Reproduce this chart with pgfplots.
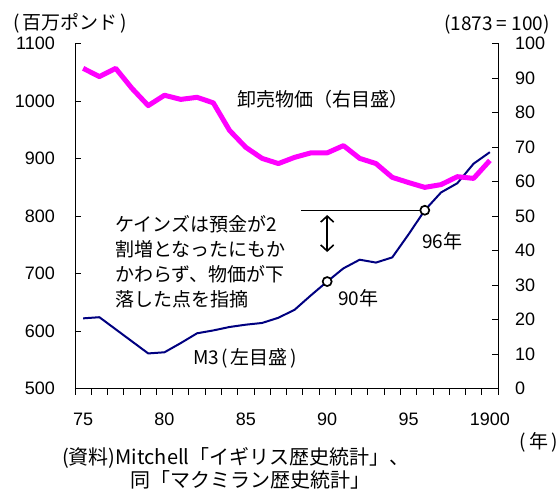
\documentclass[border=0pt]{standalone}
\usepackage{fontspec}
\setmainfont{Noto Sans CJK JP}
\newfontfamily\tickfont{Liberation Sans}
\usepackage{pgfplots}
\usepackage{pgfplotstable}
\pgfplotsset{compat=1.18}
\usetikzlibrary{arrows.meta}

\definecolor{mthree}{RGB}{0,0,128}
\definecolor{wprice}{RGB}{255,0,255}

% Money supply M3 (million pounds, left scale)
\pgfplotstableread{
year m3
1875 622
1876 624
1877 603
1878 582
1879 561
1880 563
1881 579
1882 596
1883 601
1884 607
1885 611
1886 614
1887 623
1888 637
1889 662
1890 686
1891 709
1892 724
1893 719
1894 728
1895 768
1896 810
1897 841
1898 857
1899 891
1900 911
}\mthreetable

% Wholesale price index (1873 = 100, right scale)
\pgfplotstableread{
year idx
1875 92.8
1876 90.4
1877 92.8
1878 87.0
1879 82.0
1880 85.0
1881 83.8
1882 84.4
1883 82.8
1884 74.8
1885 69.9
1886 66.7
1887 65.2
1888 67.0
1889 68.3
1890 68.3
1891 70.4
1892 66.7
1893 65.2
1894 61.2
1895 59.7
1896 58.3
1897 59.1
1898 61.4
1899 60.9
1900 66.1
}\pricetable

\tikzset{
  txt/.style={inner sep=0pt, font=\fontsize{19}{19}\selectfont},
  src/.style={inner sep=0pt, font=\fontsize{20}{20}\selectfont},
}

\pgfplotsset{
  frame/.style={
    scale only axis, width=423pt, height=345pt,
    at={(0pt,0pt)}, anchor=south west,
    xmin=1874.5, xmax=1900.5,
    clip=false,
    tick align=inside,
    major tick length=6pt, minor tick length=6pt,
    every tick/.style={black, line width=0.8pt},
    axis line style={black, line width=0.9pt},
    /pgf/number format/assume math mode=true,
    /pgf/number format/1000 sep={},
    ticklabel style={font=\tickfont\fontsize{18}{18}\selectfont, inner sep=0pt},
  },
}

\begin{document}
\begin{tikzpicture}
\path[use as bounding box] (-75pt,-110.5pt) rectangle (484pt,388.5pt);

% left scale: M3 and the x axis
\begin{axis}[frame,
  ymin=500, ymax=1100,
  axis x line*=bottom, axis y line*=left,
  ytick={500,600,...,1100},
  xtick={1875,1880,...,1900},
  xticklabels={75,80,85,90,95,1900},
  minor xtick={1874.5,1875.5,...,1900.5},
  major x tick style={draw=none},
  minor x tick style={yshift=-6pt},
  xticklabel style={anchor=base, yshift=-36.5pt},
  yticklabel style={anchor=east, xshift=-20pt},
]
\addplot[mthree, line width=2pt, line join=round] table[x=year, y=m3] {\mthreetable};

% level of 1896 carried back to 1890
\draw[black, line width=1pt] (axis cs:1888.4,810) -- (axis cs:1896,810);
\draw[black, line width=1.6pt, {Straight Barb[length=6pt,width=13pt]}-{Straight Barb[length=6pt,width=13pt]}]
  (axis cs:1890,801.7) -- (axis cs:1890,737.4);

\addplot[only marks, mark=*, mark size=4.5pt,
  mark options={fill=white, draw=black, line width=1.7pt}]
  coordinates {(1890,686) (1896,810)};

\node[txt, anchor=base west] at (axis cs:1870.69,1125.2) {(\,百万ポンド\,)};
\node[txt, anchor=base east] at (axis cs:1903.70,1122.6) {(1873 = 100)};
\node[txt, anchor=base west] at (axis cs:1884.46,991.3) {卸売物価（右目盛）};
\node[txt, anchor=base west] at (axis cs:1881.75,540.9) {M3\hspace{2pt}(\hspace{3pt}左目盛\hspace{3pt})};
\node[txt, anchor=base west] at (axis cs:1890.67,643.5) {90年};
\node[txt, anchor=base west] at (axis cs:1895.83,744.3) {96年};

\node[txt, anchor=base west] at (axis cs:1876.96,773.0) {ケインズは預金が2};
\node[txt, anchor=base west] at (axis cs:1876.96,729.6) {割増となったにもか};
\node[txt, anchor=base west] at (axis cs:1876.96,686.1) {かわらず、物価が下};
\node[txt, anchor=base west] at (axis cs:1876.96,642.6) {落した点を指摘};

\node[txt, anchor=base east] at (axis cs:1904.19,396.5) {(\,年\,)};
\node[src, anchor=base west] at (axis cs:1873.70,368.7) {(資料)Mitchell「イギリス歴史統計」、};
\node[src, anchor=base west] at (axis cs:1877.88,328.7) {同「マクミラン歴史統計」};
\end{axis}

% right scale: wholesale prices
\begin{axis}[frame,
  ymin=0, ymax=100,
  axis x line=none, axis y line*=right,
  ytick={0,10,...,100},
  yticklabel style={anchor=west, xshift=17pt},
]
\addplot[wprice, line width=5pt, line join=round] table[x=year, y=idx] {\pricetable};
\end{axis}
\end{tikzpicture}
\end{document}
